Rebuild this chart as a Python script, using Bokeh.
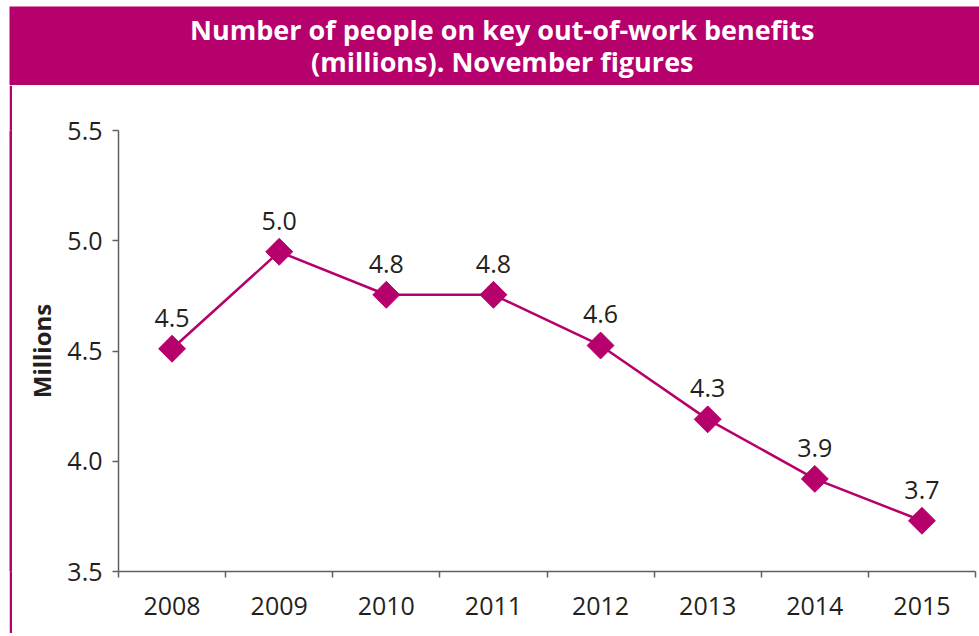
from bokeh.plotting import figure
from bokeh.models import Range1d, FixedTicker, LinearAxis, ColumnDataSource
from bokeh.layouts import column, row
from bokeh.embed import file_html
from bokeh.resources import INLINE
from bokeh.core.properties import value

# ---- data ----
years = ["2008", "2009", "2010", "2011", "2012", "2013", "2014", "2015"]
benefits = [4.51, 4.95, 4.755, 4.755, 4.525, 4.19, 3.92, 3.73]
point_labels = ["4.5", "5.0", "4.8", "4.8", "4.6", "4.3", "3.9", "3.7"]
y_ticks = [3.5, 4.0, 4.5, 5.0, 5.5]
title_lines = ["Number of people on key out-of-work benefits",
               "(millions). November figures"]
y_title = "Millions"

MAGENTA = "#b6006b"
TEXT = "#231f20"
AXIS = "#5f5f5f"
FONT = "Open Sans"

# ---- banner ----
banner = figure(width=970, height=79, x_range=Range1d(0, 1), y_range=Range1d(0, 79),
                output_backend="svg", toolbar_location=None, min_border=0)
banner.background_fill_color = MAGENTA
banner.border_fill_color = MAGENTA
banner.outline_line_color = None
banner.axis.visible = False
banner.grid.visible = False
banner.text(x=[0.508, 0.508], y=[56, 24], text=title_lines,
            text_font=value(FONT), text_font_style="bold", text_font_size="27px",
            text_color="white", text_align="center", text_baseline="middle")

# ---- left magenta strip ----
strip = figure(width=3, height=548, output_backend="svg", toolbar_location=None,
               min_border=0, x_range=Range1d(0, 1), y_range=Range1d(0, 1))
strip.background_fill_color = MAGENTA
strip.border_fill_color = MAGENTA
strip.outline_line_color = None
strip.axis.visible = False
strip.grid.visible = False

# ---- main chart ----
n = len(years)
xs = [i + 0.5 for i in range(n)]
src = ColumnDataSource(dict(x=xs, y=benefits, lab=point_labels))

p = figure(width=967, height=548, x_range=Range1d(0, n), y_range=Range1d(y_ticks[0], y_ticks[-1]),
           output_backend="svg", toolbar_location=None,
           x_axis_type=None, y_axis_type=None,
           min_border_left=106, min_border_right=4, min_border_top=45, min_border_bottom=62)
p.outline_line_color = None
p.grid.visible = False
p.background_fill_color = "white"
p.border_fill_color = "white"

yaxis = LinearAxis(ticker=FixedTicker(ticks=y_ticks, minor_ticks=[]))
yaxis.major_label_overrides = {t: f"{t:.1f}" for t in y_ticks}
yaxis.axis_label = y_title
yaxis.axis_label_text_font = FONT
yaxis.axis_label_text_font_style = "bold"
yaxis.axis_label_text_font_size = "24px"
yaxis.axis_label_text_color = TEXT
yaxis.axis_label_standoff = 6
yaxis.major_label_text_font = FONT
yaxis.major_label_text_font_size = "25px"
yaxis.major_label_text_color = TEXT
yaxis.major_label_standoff = 10
yaxis.axis_line_color = AXIS
yaxis.axis_line_width = 1.5
yaxis.major_tick_line_color = AXIS
yaxis.major_tick_line_width = 1.5
yaxis.major_tick_out = 6
yaxis.major_tick_in = 0
yaxis.minor_tick_line_color = None
p.add_layout(yaxis, "left")

xaxis = LinearAxis(ticker=FixedTicker(ticks=xs, minor_ticks=list(range(n + 1))))
xaxis.major_label_overrides = {x: y for x, y in zip(xs, years)}
xaxis.major_label_text_font = FONT
xaxis.major_label_text_font_size = "25px"
xaxis.major_label_text_color = TEXT
xaxis.major_label_standoff = 19
xaxis.axis_line_color = AXIS
xaxis.axis_line_width = 1.5
xaxis.major_tick_line_color = None
xaxis.major_tick_out = 6
xaxis.major_tick_in = 0
xaxis.minor_tick_line_color = AXIS
xaxis.minor_tick_line_width = 1.5
xaxis.minor_tick_out = 6
xaxis.minor_tick_in = 0
p.add_layout(xaxis, "below")

p.line("x", "y", source=src, line_color=MAGENTA, line_width=2.5)
p.scatter("x", "y", source=src, marker="square", size=19, angle=45, angle_units="deg",
          fill_color=MAGENTA, line_color=MAGENTA)
p.text("x", "y", text="lab", source=src, text_font=value(FONT), text_font_size="25px",
       text_color=TEXT, text_align="center", text_baseline="middle", y_offset=-31)

layout = column(banner, row(strip, p, spacing=0), spacing=0)
layout.margin = (6, 0, 0, 9)

open("out.html", "w").write(file_html(layout, INLINE))
